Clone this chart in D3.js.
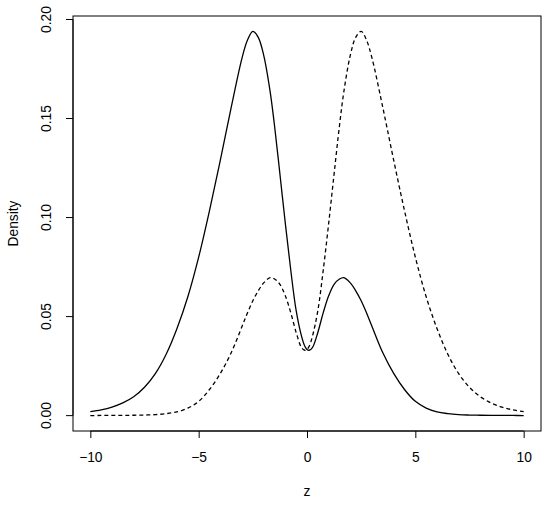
<!DOCTYPE html>
<html>
<head>
<meta charset="utf-8">
<script src="https://cdn.jsdelivr.net/npm/d3@7"></script>
<style>
  body { margin: 0; background: #fff; }
  text { font-family: "Liberation Sans", Arial, Helvetica, sans-serif; fill: #000; }
</style>
</head>
<body>
<svg id="chart" width="550" height="508"></svg>
<script>
// z grid shared by both curves
const zValues = [-10, -9.5, -9, -8.5, -8, -7.5, -7, -6.5, -6, -5.5, -5, -4.5, -4, -3.5, -3, -2.75, -2.5, -2.25, -2, -1.7,
  -1.5, -1.25, -1, -0.75, -0.5, -0.25, -0.1, 0, 0.1, 0.25, 0.5, 0.75, 1, 1.25, 1.5, 1.7, 2, 2.25, 2.5, 2.75, 3, 3.5,
  4, 4.5, 5, 5.5, 6, 6.5, 7, 7.5, 8, 8.5, 9, 9.5, 10]

// solid curve (density)
const solidDensity = [0.0020, 0.0029, 0.0043, 0.0064, 0.0095, 0.0143, 0.0212, 0.0310, 0.0440, 0.0600, 0.0800, 0.1035,
  0.1290, 0.1555, 0.1805, 0.1895, 0.1940, 0.1910, 0.1820, 0.1635, 0.1465, 0.1220, 0.0970, 0.0735, 0.0530, 0.0400,
  0.0350, 0.0334, 0.0330, 0.0343, 0.0420, 0.0520, 0.0605, 0.0663, 0.0690, 0.0697, 0.0670, 0.0630, 0.0580, 0.0518,
  0.0450, 0.0317, 0.0213, 0.0132, 0.0072, 0.0038, 0.0019, 0.0010, 0.0005, 0.0003, 0.0002, 0.0001, 0.0001, 0.0001, 0.0000]

// dashed curve
const dashedDensity = [0.0000, 0.0001, 0.0001, 0.0001, 0.0002, 0.0003, 0.0005, 0.0010, 0.0019, 0.0038, 0.0072, 0.0132,
  0.0213, 0.0317, 0.0450, 0.0518, 0.0580, 0.0630, 0.0670, 0.0697, 0.0690, 0.0663, 0.0605, 0.0520, 0.0420, 0.0343,
  0.0330, 0.0334, 0.0350, 0.0400, 0.0530, 0.0735, 0.0970, 0.1220, 0.1465, 0.1635, 0.1820, 0.1910, 0.1940, 0.1895,
  0.1805, 0.1555, 0.1290, 0.1035, 0.0800, 0.0600, 0.0440, 0.0310, 0.0212, 0.0143, 0.0095, 0.0064, 0.0043, 0.0029, 0.0020]

const xTicks = [-10, -5, 0, 5, 10]
const yTicks = [0, 0.05, 0.10, 0.15, 0.20]
const yTickLabels = ["0.00", "0.05", "0.10", "0.15", "0.20"]

const svg = d3.select("#chart")
const box = { left: 73, right: 541, top: 16, bottom: 431 }
const fontSize = "13.8px"

// R style: data range padded by 4% on each side
const x = d3.scaleLinear().domain([-10.8, 10.8]).range([box.left, box.right])
const y = d3.scaleLinear().domain([-0.00776, 0.20176]).range([box.bottom, box.top])

svg.append("rect")
  .attr("x", box.left).attr("y", box.top)
  .attr("width", box.right - box.left).attr("height", box.bottom - box.top)
  .attr("fill", "none").attr("stroke", "#000").attr("stroke-width", 1)

// x axis
const xAxis = svg.append("g").attr("transform", `translate(0,${box.bottom})`)
  .call(d3.axisBottom(x).tickValues(xTicks).tickSize(7).tickPadding(14).tickFormat(d => d < 0 ? "\u2212" + Math.abs(d) : d))
xAxis.select(".domain").attr("d", `M${x(-10)},0H${x(10)}`)
xAxis.selectAll("text").style("font-size", fontSize).style("font-family", null)

// y axis, labels parallel to the axis like R
const yAxis = svg.append("g").attr("transform", `translate(${box.left},0)`)
  .call(d3.axisLeft(y).tickValues(yTicks).tickSize(7).tickFormat((d, i) => yTickLabels[i]))
yAxis.select(".domain").attr("d", `M0,${y(0)}V${y(0.2)}`)
yAxis.selectAll("text")
  .attr("x", null).attr("dy", null)
  .attr("text-anchor", "middle")
  .attr("transform", d => `translate(-22,${y(d)}) rotate(-90)`)
  .attr("y", 0)
  .style("font-size", fontSize).style("font-family", null)
yAxis.selectAll(".tick").attr("transform", "translate(0,0)")
yAxis.selectAll(".tick line").attr("transform", d => `translate(0,${y(d)})`)

svg.append("text").attr("x", (box.left + box.right) / 2).attr("y", 496)
  .attr("text-anchor", "middle").style("font-size", fontSize).text("z")
svg.append("text").attr("transform", `translate(18,${(box.top + box.bottom) / 2}) rotate(-90)`)
  .attr("text-anchor", "middle").style("font-size", fontSize).text("Density")

const line = d3.line().x(d => x(d[0])).y(d => y(d[1])).curve(d3.curveCatmullRom.alpha(0.5))

svg.append("path")
  .datum(zValues.map((z, i) => [z, solidDensity[i]]))
  .attr("d", line).attr("fill", "none").attr("stroke", "#000").attr("stroke-width", 1.3)

svg.append("path")
  .datum(zValues.map((z, i) => [z, dashedDensity[i]]))
  .attr("d", line).attr("fill", "none").attr("stroke", "#000").attr("stroke-width", 1.3)
  .attr("stroke-dasharray", "4,3")
</script>
</body>
</html>
